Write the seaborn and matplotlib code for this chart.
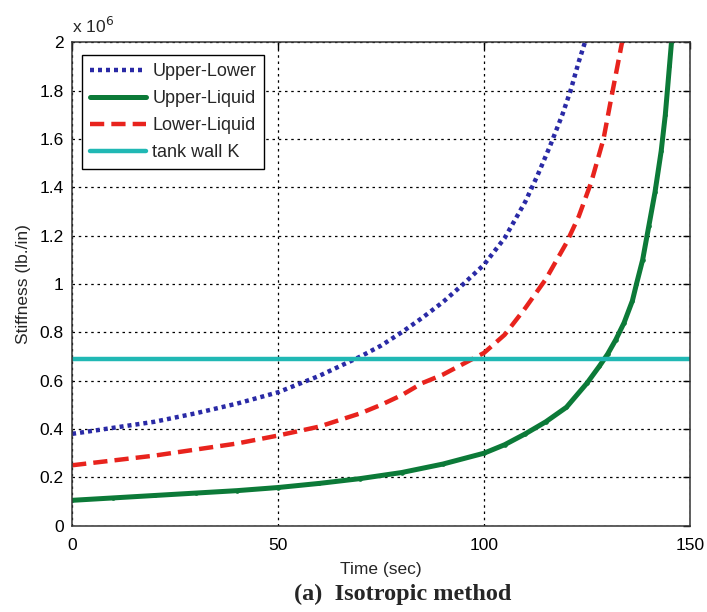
import numpy as np
import pandas as pd
import matplotlib
matplotlib.use("Agg")
import matplotlib.pyplot as plt
import seaborn as sns

# Stiffness values in units of 1e6 lb/in
t_upper_lower = [0, 10, 20, 30, 40, 50, 60, 65, 70, 75, 80, 85, 90, 95, 100,
                 105, 110, 113, 116, 119, 121, 123, 124.5]
k_upper_lower = [0.38, 0.405, 0.43, 0.465, 0.505, 0.552, 0.62, 0.66, 0.70, 0.745,
                 0.80, 0.86, 0.925, 1.00, 1.08, 1.19, 1.34, 1.45, 1.57, 1.70,
                 1.80, 1.92, 2.0]

t_upper_liquid = [0, 10, 20, 30, 40, 50, 60, 70, 80, 90, 100, 105, 110, 115, 120,
                  125, 128, 130, 132, 134, 136, 137, 138.5, 140, 141.5, 143, 144,
                  145, 145.5]
k_upper_liquid = [0.105, 0.115, 0.125, 0.135, 0.145, 0.158, 0.175, 0.195, 0.22,
                  0.255, 0.30, 0.335, 0.38, 0.43, 0.49, 0.59, 0.66, 0.71, 0.77,
                  0.84, 0.93, 1.0, 1.10, 1.24, 1.38, 1.55, 1.70, 1.90, 2.0]

t_lower_liquid = [0, 10, 20, 30, 40, 50, 60, 70, 75, 80, 85, 90, 95, 100, 105,
                  110, 115, 120, 123, 126, 129, 131, 133.5]
k_lower_liquid = [0.25, 0.27, 0.29, 0.315, 0.34, 0.373, 0.41, 0.465, 0.50, 0.54,
                  0.59, 0.625, 0.67, 0.715, 0.79, 0.90, 1.02, 1.17, 1.28, 1.42,
                  1.60, 1.78, 2.0]

t_wall = [0, 150]
k_wall = [0.69, 0.69]

x_ticks = [0, 50, 100, 150]
y_ticks = [0, 0.2, 0.4, 0.6, 0.8, 1.0, 1.2, 1.4, 1.6, 1.8, 2.0]
y_tick_labels = ["0", "0.2", "0.4", "0.6", "0.8", "1", "1.2", "1.4", "1.6", "1.8", "2"]

sns.set_style("white")
plt.rcParams["font.family"] = ["Liberation Sans", "DejaVu Sans"]

fig = plt.figure(figsize=(7.07, 6.12), dpi=100)
ax = fig.add_axes([0.102, 0.141, 0.874, 0.790])

df_ul = pd.DataFrame({"t": t_upper_lower, "k": k_upper_lower})
df_uq = pd.DataFrame({"t": t_upper_liquid, "k": k_upper_liquid})
df_lq = pd.DataFrame({"t": t_lower_liquid, "k": k_lower_liquid})
df_w = pd.DataFrame({"t": t_wall, "k": k_wall})

green = "#0c7a38"
sns.lineplot(data=df_ul, x="t", y="k", ax=ax, color="#2a2aa6", lw=3.2,
             linestyle=(0, (0.9, 0.9)), label="Upper-Lower")
sns.lineplot(data=df_uq, x="t", y="k", ax=ax, color=green, lw=3.6,
             marker=".", markersize=5, markeredgecolor=green,
             markerfacecolor=green, label="Upper-Liquid")
sns.lineplot(data=df_lq, x="t", y="k", ax=ax, color="#e8231d", lw=3.2,
             linestyle=(0, (3.2, 1.6)), label="Lower-Liquid")
sns.lineplot(data=df_w, x="t", y="k", ax=ax, color="#20b8b4", lw=3.2,
             label="tank wall K")

ax.set_xlim(0, 150)
ax.set_ylim(0, 2.0)
ax.set_xticks(x_ticks)
ax.set_xticklabels([str(v) for v in x_ticks])
ax.set_yticks(y_ticks)
ax.set_yticklabels(y_tick_labels)
ax.tick_params(direction="in", length=5, width=1, labelsize=12.5, colors="black",
               top=True, right=True, pad=6)
ax.tick_params(axis="x", pad=9)
ax.grid(True, color="black", linestyle=(0, (2, 3)), linewidth=0.9)
for s in ax.spines.values():
    s.set_color("#333333")
    s.set_linewidth(1.1)

ax.set_xlabel("Time (sec)", fontsize=12.5, labelpad=6)
ax.set_ylabel("Stiffness (lb./in)", fontsize=12.5, labelpad=6)
ax.text(0.0, 1.012, r"x 10$^{6}$", transform=ax.transAxes, fontsize=12.5,
        ha="left", va="bottom")

leg = ax.legend(loc="upper left", bbox_to_anchor=(0.016, 0.973), fontsize=13,
                frameon=True, fancybox=False, edgecolor="black", framealpha=1,
                handlelength=3.1, handletextpad=0.35, labelspacing=0.55,
                borderpad=0.45, borderaxespad=0)
leg.get_frame().set_linewidth(1.0)

fig.text(0.57, 0.029, "(a)  Isotropic method", fontsize=17.5, fontweight="bold",
         family=["Liberation Serif", "DejaVu Serif"], ha="center", va="center")

fig.savefig("out.png", dpi=100)
